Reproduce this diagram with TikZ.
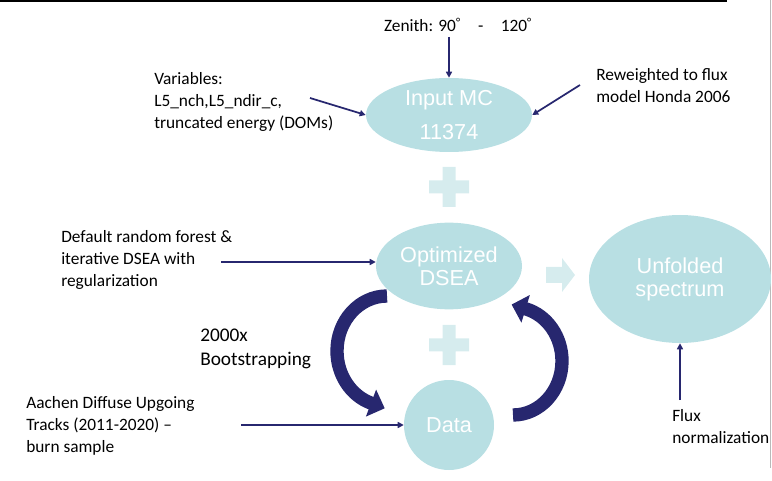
\documentclass[tikz,border=0pt]{standalone}
\usepackage{fontspec}
\setmainfont{Carlito}
\newfontfamily\arialfont{Liberation Sans}
\usetikzlibrary{shapes.geometric,arrows.meta}
\definecolor{blob}{HTML}{B8DFE3}
\definecolor{pale}{HTML}{D6ECEE}
\definecolor{navy}{HTML}{27276F}

\begin{document}
\begin{tikzpicture}[x=0.75pt,y=-0.75pt,
  stage/.style={ellipse, fill=blob, inner sep=0pt, text=white, align=center,
    font=\arialfont\fontsize{16.25}{17.25}\selectfont},
  lbl/.style={anchor=west, align=left, inner sep=0pt, font=\fontsize{13}{16.75}\selectfont},
  feed/.style={navy, line width=1.3pt, -{Triangle[length=4.5pt,width=4.5pt]}},
  cycarrow/.style={navy, line width=10pt, -{Triangle[length=11pt,width=21pt]}}]
  \useasboundingbox (0,0) rectangle (772,481);
  \draw[line width=1.5pt] (0,1) -- (727,1);
  \draw[gray!55, line width=0.75pt] (770.5,0) -- (770.5,468);

  \node[stage, minimum width=124.5pt, minimum height=55.5pt] (mc) at (449,115) {Input MC\\[8.25pt]11374};
  \node[stage, minimum width=109.5pt, minimum height=65pt] (dsea) at (449,266) {Optimized\\DSEA};
  \node[stage, minimum width=136.5pt, minimum height=96pt] (unf) at (680,279) {Unfolded\\spectrum};
  \node[stage, minimum size=67.5pt] (data) at (449,425) {Data};

  \foreach \y in {187,345}
    \fill[pale] (429,\y-6.5) rectangle (469,\y+6.5) (442.5,\y-20) rectangle (455.5,\y+20);
  \fill[pale] (546,267) -- (562,267) -- (562,258) -- (575,275) -- (562,292) -- (562,283) -- (546,283) -- cycle;

  \node[lbl, anchor=center] (zen) at (458,25) {Zenith: 90\textsuperscript{°}\quad-\quad120\textsuperscript{°}};
  \node[lbl] (vars) at (154,102) {Variables:\\L5\_nch,L5\_ndir\_c,\\truncated energy (DOMs)};
  \node[lbl] (rew) at (596,85.5) {Reweighted to flux\\model Honda 2006};
  \node[lbl] (dflt) at (61,260) {Default random forest \&\\iterative DSEA with\\regularization};
  \node[lbl, font=\fontsize{14.5}{18}\selectfont] (boot) at (200,349) {2000x\\Bootstrapping};
  \node[lbl] (aachen) at (26,426) {Aachen Diffuse Upgoing\\Tracks (2011-2020) --\\burn sample};
  \node[lbl] (flux) at (672,426.5) {Flux\\normalization};

  \coordinate (zt) at (449,37);
  \coordinate (vt) at (310,98);
  \coordinate (rt) at (580,85);
  \coordinate (dt) at (221,262);
  \coordinate (at) at (241,425);
  \coordinate (ft) at (680,400);
  \draw[feed] (zt) -- (mc.north);
  \draw[feed] (vt) -- (mc.west);
  \draw[feed] (rt) -- (mc.east);
  \draw[feed] (dt) -- (dt -| dsea.west);
  \draw[feed] (at) -- (data.west);
  \draw[feed] (ft) -- (unf.south);

  \coordinate (down) at (387,296);
  \coordinate (up) at (513,415);
  \draw[cycarrow] (down) arc[start angle=270, end angle=109, x radius=50, y radius=55] -- ++(14,5.3);
  \draw[cycarrow] (up) arc[start angle=90, end angle=-74.6, x radius=49, y radius=54] -- ++(-14.4,-4.4);
\end{tikzpicture}
\end{document}
